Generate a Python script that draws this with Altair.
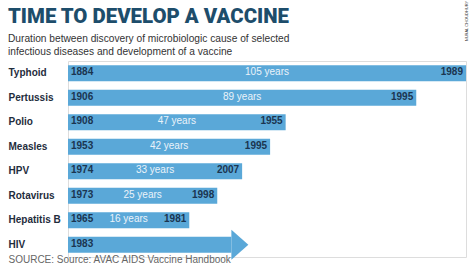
import altair as alt
import pandas as pd

# ---- data ----
diseases = ["Typhoid", "Pertussis", "Polio", "Measles", "HPV", "Rotavirus", "Hepatitis B", "HIV"]
discovered = [1884, 1906, 1908, 1953, 1974, 1973, 1965, 1983]
vaccine = [1989, 1995, 1955, 1995, 2007, 1998, 1981, None]   # HIV: no vaccine yet
hiv_arrow_until = 2018                                        # arrow drawn up to publication year

years = [(v - d) if v is not None else (hiv_arrow_until - d) for d, v in zip(discovered, vaccine)]
df = pd.DataFrame({
    "disease": diseases,
    "start": discovered,
    "end": [str(v) if v is not None else "" for v in vaccine],
    "years": years,
    "done": [v is not None for v in vaccine],
    "dur": [f"{y} years" if v is not None else "" for y, v in zip(years, vaccine)],
})

BASE = -23  # scale value where every bar begins (left edge of the plot)
BAR = "#5aa8d8"
DARK = "#1b3550"
FONT = "Liberation Sans"

xscale = alt.Scale(domain=[BASE, 105], nice=False, zero=False)
yenc = alt.Y("disease:N", sort=diseases,
             scale=alt.Scale(paddingInner=0.35, paddingOuter=0.175),
             axis=alt.Axis(title=None, labelAlign="left", labelPadding=60, ticks=False,
                           tickSize=0, domain=False, labelFontSize=10, labelFontWeight="bold",
                           labelColor="#1f2d3d", labelFont=FONT, labelBaseline="middle"))
xaxis = alt.Axis(labels=False, ticks=False, domain=False, grid=False,
                 title="SOURCE: Source: AVAC AIDS Vaccine Handbook",
                 titleX=-60, titleY=5, titleAlign="left", titleBaseline="alphabetic",
                 titleFont=FONT, titleFontSize=10, titleFontWeight="normal",
                 titleColor="#666666")

base = alt.Chart(df).transform_calculate(base=str(BASE), mid=f"({BASE} + datum.years) / 2")

bars = base.transform_filter("datum.done").mark_bar(color=BAR).encode(
    x=alt.X("base:Q", scale=xscale, axis=xaxis), x2="years:Q", y=yenc)

hiv_body = base.transform_filter("!datum.done").mark_bar(color=BAR, x2Offset=-17).encode(
    x=alt.X("base:Q", scale=xscale), x2="years:Q", y=yenc)

hiv_head = base.transform_filter("!datum.done").mark_point(
    shape="M-1.13,-1 L0,0 L-1.13,1 Z", size=900, filled=True, opacity=1, color=BAR
).encode(x=alt.X("years:Q", scale=xscale), y=yenc)

start_txt = base.mark_text(align="left", baseline="middle", dx=3, dy=-1, fontSize=10,
                           fontWeight="bold", color=DARK, font=FONT).encode(
    x=alt.X("base:Q", scale=xscale), y=yenc, text="start:N")

end_txt = base.transform_filter("datum.done").mark_text(
    align="right", baseline="middle", dx=-3, dy=-1, fontSize=10, fontWeight="bold",
    color=DARK, font=FONT).encode(x=alt.X("years:Q", scale=xscale), y=yenc, text="end:N")

dur_txt = base.transform_filter("datum.done").mark_text(
    align="center", baseline="middle", dy=-1, fontSize=10, color="#eaf3fa", font=FONT
).encode(x=alt.X("mid:Q", scale=xscale), y=yenc, text="dur:N")

credit = alt.Chart(pd.DataFrame({"t": ["NURAL CHOUDHURY"]})).mark_text(
    angle=270, fontSize=4, color="#333333", font=FONT, align="center", baseline="middle"
).encode(x=alt.value(399), y=alt.value(-40), text="t:N")

chart = alt.layer(bars, hiv_body, hiv_head, start_txt, end_txt, dur_txt, credit).properties(
    width=398, height=196,
    title=alt.TitleParams(
        text="TIME TO DEVELOP A VACCINE",
        subtitle=["Duration between discovery of microbiologic cause of selected",
                  "infectious diseases and development of a vaccine"],
        anchor="start", frame="bounds", offset=-56,
        font="Roboto", fontSize=20.4, fontWeight=900, color="#1d4d6b",
        subtitleFont=FONT, subtitleFontSize=10.2, subtitleColor="#333333",
        subtitleLineHeight=13, subtitlePadding=6,
    ),
    autosize=alt.AutoSizeParams(type="none"),
    padding={"left": 68, "top": 61, "right": 8, "bottom": 9},
).configure_view(stroke=None).configure(background="white")

chart.save("out.html", embed_options={"renderer": "svg", "actions": False})
